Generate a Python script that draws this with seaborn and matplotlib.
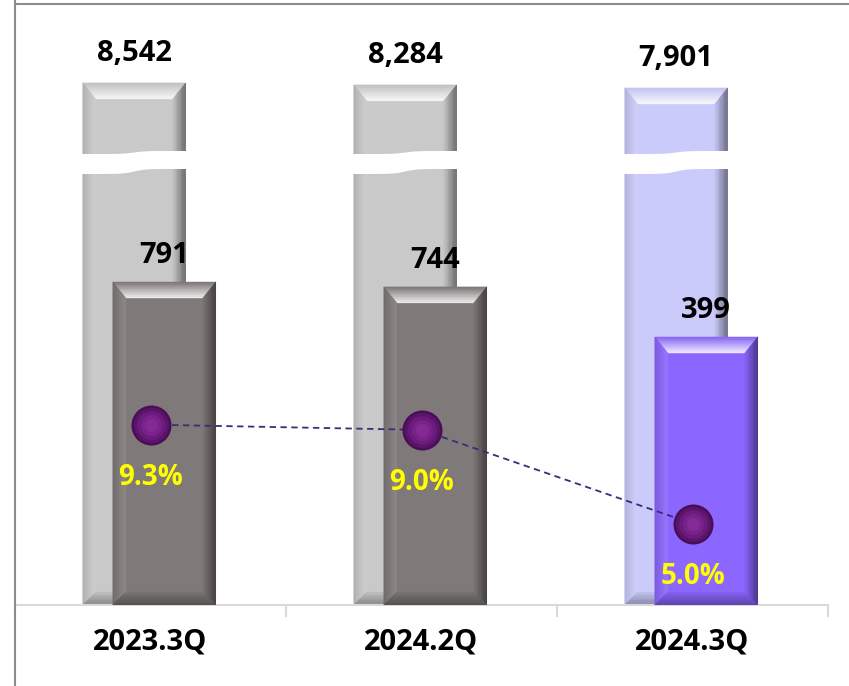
import numpy as np
import pandas as pd
import matplotlib
matplotlib.use("Agg")
import matplotlib.pyplot as plt
import seaborn as sns
from matplotlib.patches import Polygon
from matplotlib.lines import Line2D
from matplotlib.transforms import IdentityTransform
from matplotlib.ticker import NullLocator
from matplotlib.colors import to_rgb

# ---------------- data ----------------
categories = ["2023.3Q", "2024.2Q", "2024.3Q"]
revenue = [8542, 8284, 7901]          # back (tall) bars
op_profit = [791, 744, 399]           # front bars
op_margin = [9.3, 9.0, 5.0]           # % line
revenue_labels = ["8,542", "8,284", "7,901"]
profit_labels = ["791", "744", "399"]
margin_labels = ["9.3%", "9.0%", "5.0%"]

back_colors = ["#c9c9c9", "#c9c9c9", "#cbcbfb"]
front_colors = ["#7f7979", "#7f7979", "#8b66ff"]

# ---------------- setup ----------------
sns.set_theme(style="white")
plt.rcParams["font.family"] = ["Open Sans", "DejaVu Sans"]

W, H = 849, 686
fig = plt.figure(figsize=(W / 100, H / 100), dpi=100)
ax_back = fig.add_axes([15 / W, 81 / H, 813 / W, 605 / H])
ax_front = ax_back.twinx()
ax_pct = ax_back.twinx()
for a in (ax_back, ax_front, ax_pct):
    a.set_yscale("log")
    a.patch.set_visible(False)

pos = np.arange(len(categories))
df = pd.DataFrame({"cat": categories, "pos": pos, "revenue": revenue,
                   "op": op_profit, "margin": op_margin})

BACK_OFF, FRONT_OFF, BW = -0.060, 0.051, 0.38

sns.barplot(x=df["pos"] + BACK_OFF, y=df["revenue"], hue=df["cat"],
            palette=back_colors, native_scale=True, dodge=False, width=BW,
            legend=False, ax=ax_back, saturation=1, linewidth=0)
sns.barplot(x=df["pos"] + FRONT_OFF, y=df["op"], hue=df["cat"],
            palette=front_colors, native_scale=True, dodge=False, width=BW,
            legend=False, ax=ax_front, saturation=1, linewidth=0)

sns.lineplot(x=df["pos"], y=df["margin"], ax=ax_pct, color="#3d2b7a",
             linewidth=1.3, linestyle=(0, (3.5, 2.5)), zorder=3)
for s, c in [(830, "#4a0d57"), (640, "#5a1469"), (430, "#6a1b7b"),
             (230, "#78228a"), (90, "#842a95")]:
    sns.scatterplot(x=df["pos"], y=df["margin"], ax=ax_pct, s=s, color=c,
                    linewidth=0, zorder=4, legend=False)

# ---------------- scales / limits ----------------
for a in (ax_back, ax_front, ax_pct):
    a.set_xlim(-0.5, 2.5)
ax_back.set_ylim(2.48, 31150)
ax_front.set_ylim(14.2, 26450)
ax_pct.set_ylim(3.0, 133.5)

for a in (ax_back, ax_front, ax_pct):
    a.yaxis.set_major_locator(NullLocator())
    a.yaxis.set_minor_locator(NullLocator())
    a.set_ylabel("")
    a.set_xlabel("")
    for sp in a.spines.values():
        sp.set_visible(False)
    a.tick_params(left=False, right=False, labelleft=False, labelright=False)

ax_back.spines["bottom"].set_visible(True)
ax_back.spines["bottom"].set_color("#d9d9d9")
ax_back.spines["bottom"].set_linewidth(1.5)
ax_back.set_xticks(pos, categories)
ax_back.set_xticks([-0.5, 0.5, 1.5, 2.5], minor=True)
ax_back.tick_params(axis="x", which="major", length=0, pad=16, labelsize=21)
ax_back.tick_params(axis="x", which="minor", length=8.6, width=1.5,
                    color="#d9d9d9", direction="out", bottom=True)
for lbl in ax_back.get_xticklabels():
    lbl.set_fontweight("bold")
    lbl.set_color("black")
for a in (ax_front, ax_pct):
    a.tick_params(axis="x", which="both", bottom=False, top=False,
                  labelbottom=False, labeltop=False)


# ---------------- bevel decoration ----------------
def mix(c, other, t):
    c = np.array(to_rgb(c)); o = np.array(to_rgb(other))
    return tuple(np.clip(c * (1 - t) + o * t, 0, 1))


TR = IdentityTransform()


def grad_trap(ax, o0, o1, i0, i1, c_out, c_in, n=10, z=2):
    o0, o1, i0, i1 = map(np.array, (o0, o1, i0, i1))
    for k in range(n):
        f0, f1 = k / n, (k + 1) / n
        a0 = o0 + f0 * (i0 - o0); a1 = o1 + f0 * (i1 - o1)
        b0 = o0 + f1 * (i0 - o0); b1 = o1 + f1 * (i1 - o1)
        t = (k + 0.5) / n
        col = tuple(np.array(c_out) * (1 - t) + np.array(c_in) * t)
        ax.add_patch(Polygon([a0, a1, b1, b0], closed=True, facecolor=col,
                             edgecolor=col, lw=0.3, transform=TR, zorder=z))


def bevel(ax, patch, color, draw_break=False):
    x0, x1 = patch.get_x(), patch.get_x() + patch.get_width()
    top = patch.get_y() + patch.get_height()
    (X0, Y1) = ax.transData.transform((x0, top))
    (X1, _) = ax.transData.transform((x1, top))
    Y0 = ax.transAxes.transform((0, 0))[1]
    dt, ds = 16, 13
    grad_trap(ax, (X0, Y1), (X1, Y1), (X0 + ds, Y1 - dt), (X1 - ds, Y1 - dt),
              mix(color, "black", 0.05), mix(color, "white", 0.9))
    grad_trap(ax, (X0, Y1), (X0, Y0), (X0 + ds, Y1 - dt), (X0 + ds, Y0 + ds),
              mix(color, "black", 0.12), mix(color, "white", 0.12))
    grad_trap(ax, (X1, Y1), (X1, Y0), (X1 - ds, Y1 - dt), (X1 - ds, Y0 + ds),
              mix(color, "black", 0.5), mix(color, "black", 0.02))
    grad_trap(ax, (X0, Y0), (X1, Y0), (X0 + ds, Y0 + ds), (X1 - ds, Y0 + ds),
              mix(color, "black", 0.35), mix(color, "black", 0.05))
    if draw_break:
        xs = np.linspace(X0 - 1, X1 + 2, 60)
        t = (xs - X0) / (X1 - X0)
        s = 0.5 + 0.5 * np.tanh((t - 0.5) * 9)
        ytop = (H - 154) + 3 * s
        ybot = (H - 174) + 5 * s
        pts = list(zip(xs, ytop)) + list(zip(xs[::-1], ybot[::-1]))
        ax.add_patch(Polygon(pts, closed=True, facecolor="white",
                             edgecolor="none", transform=TR, zorder=3))


back_bars = list(ax_back.patches)
front_bars = list(ax_front.patches)
for p, c in zip(back_bars, back_colors):
    bevel(ax_back, p, c, draw_break=True)
for p, c in zip(front_bars, front_colors):
    bevel(ax_front, p, c)

# ---------------- labels ----------------
txt = dict(ha="center", va="center", fontweight="bold",
           textcoords="offset points", zorder=6)
for p, lab, v in zip(back_bars, revenue_labels, revenue):
    ax_back.annotate(lab, xy=(p.get_x() + p.get_width() / 2, v),
                     xytext=(0, 21), color="black", fontsize=21, **txt)
for p, lab, v in zip(front_bars, profit_labels, op_profit):
    ax_front.annotate(lab, xy=(p.get_x() + p.get_width() / 2, v),
                      xytext=(0, 19), color="black", fontsize=21, **txt)
for x, lab, v in zip(pos, margin_labels, op_margin):
    ax_pct.annotate(lab, xy=(x, v), xytext=(0, -38), color="#ffff00",
                    fontsize=20, **txt)

# ---------------- frame ----------------
fig.add_artist(Line2D([14.5 / W, 14.5 / W], [0, 1], transform=fig.transFigure,
                      color="#8c8c8c", lw=1.5))
fig.add_artist(Line2D([14.5 / W, 1], [1 - 3.5 / H, 1 - 3.5 / H],
                      transform=fig.transFigure, color="#8c8c8c", lw=1.5))

fig.savefig("out.png", dpi=100)
